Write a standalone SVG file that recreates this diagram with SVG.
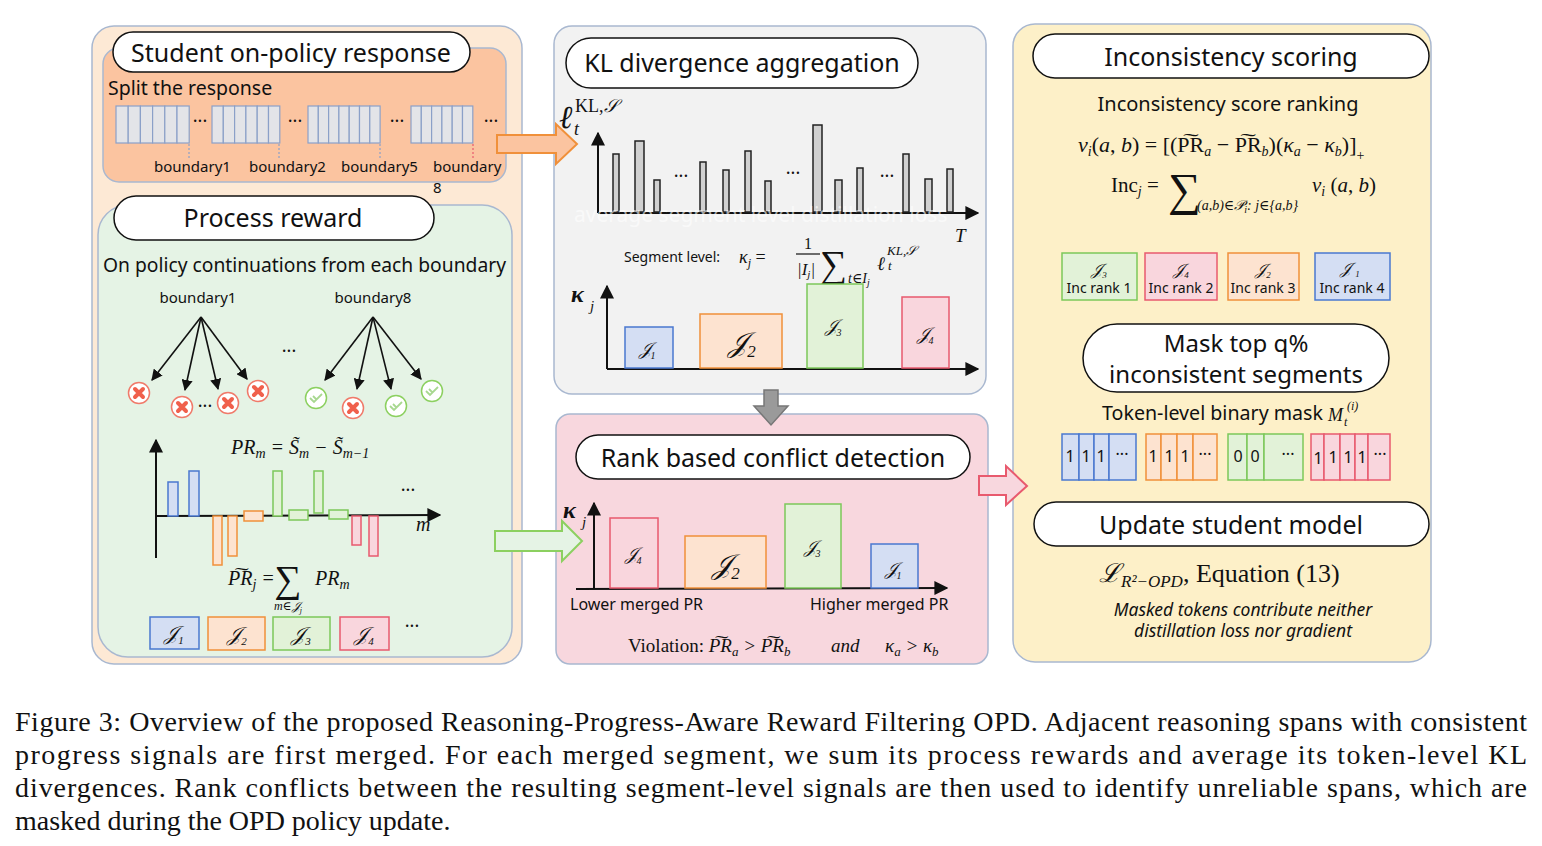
<svg xmlns="http://www.w3.org/2000/svg" width="1542" height="846" viewBox="0 0 1542 846">
<style>
.t{font-family:"Noto Sans","DejaVu Sans",sans-serif;fill:#111}
.m{font-family:"Liberation Serif","DejaVu Serif",serif;fill:#111}
.i{font-style:italic}
.pill{fill:#fff;stroke:#111;stroke-width:1.5}
.panel{stroke:#a9b8d0;stroke-width:1.5}
.tok{fill:#e3e4e8;stroke:#8ba0c8;stroke-width:1.2}
.ax{stroke:#111;stroke-width:2;fill:none}
.gb{fill:#d0d0d0;stroke:#222;stroke-width:1.5}
.b{fill:#d4def3;stroke:#4a78d0;stroke-width:1.5}
.o{fill:#fde3d0;stroke:#f0903a;stroke-width:1.5}
.g{fill:#e2f2d8;stroke:#7cc85a;stroke-width:1.5}
.r{fill:#f9d6dd;stroke:#e85a6e;stroke-width:1.5}
.cap{font-family:"Liberation Serif",serif;font-size:28px;fill:#111}
</style>
<defs>
<marker id="ah" viewBox="0 0 10 10" refX="9" refY="5" markerWidth="7" markerHeight="7" orient="auto"><path d="M0,0 L10,5 L0,10 z" fill="#111"/></marker>
</defs>

<g id="student">
<rect class="panel" x="92" y="26" width="430" height="638" rx="22" fill="#fde9d5"/>
<rect class="panel" x="103" y="48" width="403" height="134" rx="16" fill="#fbc4a0"/>
<rect class="pill" x="113" y="32" width="357" height="40" rx="20"/>
<text class="t" x="291" y="62" font-size="25" text-anchor="middle">Student on-policy response</text>
<text class="t" x="108" y="95" font-size="19.5">Split the response</text>
<g>
<rect class="tok" x="116" y="106" width="12.2" height="37"/><rect class="tok" x="128.2" y="106" width="12.2" height="37"/><rect class="tok" x="140.4" y="106" width="12.2" height="37"/><rect class="tok" x="152.6" y="106" width="12.2" height="37"/><rect class="tok" x="164.8" y="106" width="12.2" height="37"/><rect class="tok" x="177" y="106" width="12.2" height="37"/>
<rect class="tok" x="212" y="106" width="11.3" height="37"/><rect class="tok" x="223.3" y="106" width="11.3" height="37"/><rect class="tok" x="234.6" y="106" width="11.3" height="37"/><rect class="tok" x="245.9" y="106" width="11.3" height="37"/><rect class="tok" x="257.2" y="106" width="11.3" height="37"/><rect class="tok" x="268.5" y="106" width="11.3" height="37"/>
<rect class="tok" x="308" y="106" width="10.3" height="37"/><rect class="tok" x="318.3" y="106" width="10.3" height="37"/><rect class="tok" x="328.6" y="106" width="10.3" height="37"/><rect class="tok" x="338.9" y="106" width="10.3" height="37"/><rect class="tok" x="349.2" y="106" width="10.3" height="37"/><rect class="tok" x="359.5" y="106" width="10.3" height="37"/><rect class="tok" x="369.8" y="106" width="10.3" height="37"/>
<rect class="tok" x="411" y="106" width="10.3" height="37"/><rect class="tok" x="421.3" y="106" width="10.3" height="37"/><rect class="tok" x="431.6" y="106" width="10.3" height="37"/><rect class="tok" x="441.9" y="106" width="10.3" height="37"/><rect class="tok" x="452.2" y="106" width="10.3" height="37"/><rect class="tok" x="462.5" y="106" width="10.3" height="37"/>
</g>
<text class="t" x="200" y="127" font-size="18" text-anchor="middle">···</text>
<text class="t" x="295" y="127" font-size="18" text-anchor="middle">···</text>
<text class="t" x="397" y="127" font-size="18" text-anchor="middle">···</text>
<text class="t" x="491" y="127" font-size="18" text-anchor="middle">···</text>
<g stroke-dasharray="2,2" stroke-width="1.2">
<line x1="189" y1="144" x2="189" y2="158" stroke="#8ba0c8"/><line x1="279" y1="144" x2="279" y2="158" stroke="#8ba0c8"/><line x1="380" y1="144" x2="380" y2="158" stroke="#8ba0c8"/><line x1="473" y1="144" x2="473" y2="158" stroke="#e85a6e"/>
</g>
<text class="t" x="154" y="172" font-size="15">boundary1</text>
<text class="t" x="249" y="172" font-size="15">boundary2</text>
<text class="t" x="341" y="172" font-size="15">boundary5</text>
<text class="t" x="433" y="172" font-size="15">boundary</text>
<text class="t" x="433" y="193" font-size="15">8</text>
</g>

<g id="process-reward">
<rect class="panel" x="98" y="205" width="414" height="452" rx="30" fill="#e5f3e5"/>
<rect class="pill" x="114" y="196" width="320" height="44" rx="22"/>
<text class="t" x="273" y="227" font-size="25" text-anchor="middle">Process reward</text>
<text class="t" x="103" y="272" font-size="19" textLength="403" lengthAdjust="spacingAndGlyphs">On policy continuations from each boundary</text>
<text class="t" x="198" y="303" font-size="15" text-anchor="middle">boundary1</text>
<text class="t" x="373" y="303" font-size="15" text-anchor="middle">boundary8</text>
<g stroke="#111" stroke-width="1.6" marker-end="url(#ah)">
<line x1="201" y1="317" x2="152" y2="380"/><line x1="201" y1="317" x2="185" y2="390"/><line x1="201" y1="317" x2="218" y2="389"/><line x1="201" y1="317" x2="247" y2="379"/>
<line x1="373" y1="317" x2="325" y2="380"/><line x1="373" y1="317" x2="357" y2="389"/><line x1="373" y1="317" x2="391" y2="389"/><line x1="373" y1="317" x2="421" y2="379"/>
</g>
<g stroke-width="1.5" fill="#fff">
<circle cx="139" cy="393" r="10.5" stroke="#f07a6a"/><circle cx="182" cy="407" r="10.5" stroke="#f07a6a"/><circle cx="228" cy="403" r="10.5" stroke="#f07a6a"/><circle cx="258" cy="391" r="10.5" stroke="#f07a6a"/><circle cx="353" cy="408" r="10.5" stroke="#f07a6a"/>
<circle cx="316" cy="398" r="10.5" stroke="#8cd060"/><circle cx="396" cy="406" r="10.5" stroke="#8cd060"/><circle cx="432" cy="391" r="10.5" stroke="#8cd060"/>
</g>
<g stroke="#f0604c" stroke-width="4" stroke-linecap="round">
<path d="M135,389 l8,8 M143,389 l-8,8"/><path d="M178,403 l8,8 M186,403 l-8,8"/><path d="M224,399 l8,8 M232,399 l-8,8"/><path d="M254,387 l8,8 M262,387 l-8,8"/><path d="M349,404 l8,8 M357,404 l-8,8"/>
</g>
<g stroke="#a8d890" stroke-width="1.8" fill="none">
<path d="M310,398 l4,4 l8,-8 M313,396 l3,3"/><path d="M390,406 l4,4 l8,-8 M393,404 l3,3"/><path d="M426,391 l4,4 l8,-8 M429,389 l3,3"/>
</g>
<text class="t" x="289" y="357" font-size="18" text-anchor="middle">···</text>
<text class="t" x="205" y="412" font-size="18" text-anchor="middle">···</text>
<line class="ax" x1="156" y1="558" x2="156" y2="440" marker-end="url(#ah)"/>
<line class="ax" x1="156" y1="516" x2="440" y2="515" marker-end="url(#ah)"/>
<rect class="b" x="168" y="482" width="10" height="34" fill="#b4c6ec"/>
<rect class="b" x="189" y="471" width="10" height="45" fill="#b4c6ec"/>
<rect class="o" x="213" y="516" width="9" height="49"/>
<rect class="o" x="228" y="516" width="9" height="40"/>
<rect class="o" x="244" y="511" width="19" height="10"/>
<rect class="g" x="273" y="471" width="9" height="45"/>
<rect class="g" x="289" y="510" width="19" height="10"/>
<rect class="g" x="314" y="471" width="9" height="42"/>
<rect class="g" x="329" y="510" width="19" height="9"/>
<rect class="r" x="352" y="516" width="9" height="29"/>
<rect class="r" x="369" y="516" width="9" height="40"/>
<text class="m i" x="231" y="454" font-size="20">PR<tspan font-size="14" dy="4">m</tspan><tspan dy="-4"> =  </tspan><tspan>S̃</tspan><tspan font-size="14" dy="4">m</tspan><tspan dy="-4"> − S̃</tspan><tspan font-size="14" dy="4">m−1</tspan></text>
<text class="t" x="408" y="496" font-size="18" text-anchor="middle">···</text>
<text class="m i" x="416" y="531" font-size="20">m</text>
<text class="m i" x="228" y="585" font-size="20">P͠R<tspan font-size="14" dy="4">j</tspan><tspan dy="-4"> = </tspan></text>
<text class="m" x="288" y="592" font-size="38" text-anchor="middle">∑</text>
<text class="m i" x="315" y="585" font-size="20">PR<tspan font-size="14" dy="4">m</tspan></text>
<text class="m i" x="288" y="610" font-size="12" text-anchor="middle">m∈𝒥<tspan font-size="8" dy="3">j</tspan></text>
<rect class="b" x="150" y="617" width="49" height="32"/><text class="m i" x="174" y="640" font-size="20" text-anchor="middle">𝒥<tspan font-size="11" dy="4">1</tspan></text>
<rect class="o" x="208" y="617" width="57" height="33"/><text class="m i" x="237" y="641" font-size="20" text-anchor="middle">𝒥<tspan font-size="11" dy="4">2</tspan></text>
<rect class="g" x="273" y="617" width="57" height="33"/><text class="m i" x="301" y="641" font-size="20" text-anchor="middle">𝒥<tspan font-size="11" dy="4">3</tspan></text>
<rect class="r" x="340" y="617" width="49" height="33"/><text class="m i" x="364" y="641" font-size="20" text-anchor="middle">𝒥<tspan font-size="11" dy="4">4</tspan></text>
<text class="t" x="412" y="632" font-size="18" text-anchor="middle">···</text>
</g>

<g id="kl-aggregation">
<rect class="panel" x="554" y="26" width="432" height="368" rx="18" fill="#f2f2f2"/>
<rect class="pill" x="566" y="38" width="352" height="50" rx="25"/>
<text class="t" x="742" y="72" font-size="25" text-anchor="middle">KL divergence aggregation</text>
<text class="m i" x="559" y="128" font-size="32">ℓ</text>
<text class="m" x="575" y="112" font-size="18">KL,<tspan class="i">𝒮</tspan></text>
<text class="m i" x="574" y="135" font-size="18">t</text>
<line class="ax" x1="598" y1="213" x2="598" y2="133" marker-end="url(#ah)"/>
<line class="ax" x1="598" y1="213" x2="978" y2="213" marker-end="url(#ah)"/>
<rect class="gb" x="613" y="154" width="6" height="58"/><rect class="gb" x="635" y="141" width="9" height="71"/><rect class="gb" x="654" y="180" width="6" height="32"/>
<rect class="gb" x="700" y="162" width="6" height="50"/><rect class="gb" x="723" y="170" width="6" height="42"/><rect class="gb" x="745" y="151" width="6" height="61"/><rect class="gb" x="765" y="181" width="6" height="31"/>
<rect class="gb" x="813" y="125" width="9" height="87"/><rect class="gb" x="835" y="180" width="7" height="32"/><rect class="gb" x="857" y="168" width="6" height="44"/>
<rect class="gb" x="903" y="154" width="6" height="58"/><rect class="gb" x="925" y="179" width="7" height="33"/><rect class="gb" x="947" y="169" width="6" height="43"/>
<text class="t" x="681" y="182" font-size="18" text-anchor="middle">···</text>
<text class="t" x="793" y="179" font-size="18" text-anchor="middle">···</text>
<text class="t" x="887" y="182" font-size="18" text-anchor="middle">···</text>
<text class="t" x="574" y="222" font-size="21" fill-opacity="0.6" style="fill:#fff">average segment  level distillation loss</text>
<text class="m i" x="955" y="242" font-size="19">T</text>
<text class="t" x="624" y="262" font-size="14">Segment level:</text>
<text class="m i" x="739" y="263" font-size="18">κ<tspan font-size="12" dy="4">j</tspan><tspan dy="-4" font-style="normal">  =</tspan></text>
<text class="m" x="808" y="249" font-size="16" text-anchor="middle">1</text>
<line x1="796" y1="254" x2="820" y2="254" stroke="#111" stroke-width="1.2"/>
<text class="m i" x="797" y="275" font-size="17">|I<tspan font-size="11" dy="3">j</tspan><tspan dy="-3">|</tspan></text>
<text class="m" x="820" y="277" font-size="38">∑</text>
<text class="m i" x="848" y="283" font-size="14">t∈I<tspan font-size="10" dy="3">j</tspan></text>
<text class="m i" x="877" y="270" font-size="19">ℓ</text>
<text class="m i" x="887" y="255" font-size="13">KL,𝒮</text>
<text class="m i" x="888" y="270" font-size="13">t</text>
<text class="m i" x="571" y="302" font-size="24" font-weight="bold">κ</text>
<text class="m i" x="590" y="311" font-size="15">j</text>
<line class="ax" x1="607" y1="369" x2="607" y2="286" marker-end="url(#ah)"/>
<line class="ax" x1="607" y1="369" x2="978" y2="369" marker-end="url(#ah)"/>
<rect class="b" x="625" y="327" width="48" height="41"/><text class="m i" x="647" y="355" font-size="18" text-anchor="middle">𝒥<tspan font-size="10" dy="4">1</tspan></text>
<rect class="o" x="700" y="314" width="82" height="54"/><text class="m i" x="742" y="352" font-size="28" text-anchor="middle">𝒥<tspan font-size="17" dy="5">2</tspan></text>
<rect class="g" x="807" y="284" width="56" height="84"/><text class="m i" x="833" y="332" font-size="18" text-anchor="middle">𝒥<tspan font-size="10" dy="4">3</tspan></text>
<rect class="r" x="902" y="297" width="47" height="71" fill="#f2b5c0"/><text class="m i" x="925" y="340" font-size="18" text-anchor="middle">𝒥<tspan font-size="10" dy="4">4</tspan></text>
</g>

<g id="rank-conflict">
<rect class="panel" x="556" y="414" width="432" height="250" rx="14" fill="#f8d7de"/>
<rect class="pill" x="576" y="435" width="394" height="44" rx="22"/>
<text class="t" x="773" y="467" font-size="25" text-anchor="middle">Rank based conflict detection</text>
<text class="m i" x="563" y="518" font-size="24" font-weight="bold">κ</text>
<text class="m i" x="582" y="527" font-size="15">j</text>
<line class="ax" x1="594" y1="589" x2="594" y2="503" marker-end="url(#ah)"/>
<line class="ax" x1="576" y1="589" x2="947" y2="588" marker-end="url(#ah)"/>
<rect class="r" x="610" y="518" width="48" height="70" fill="#f2b5c0"/><text class="m i" x="633" y="560" font-size="18" text-anchor="middle">𝒥<tspan font-size="10" dy="4">4</tspan></text>
<rect class="o" x="685" y="536" width="81" height="52"/><text class="m i" x="726" y="574" font-size="28" text-anchor="middle">𝒥<tspan font-size="17" dy="5">2</tspan></text>
<rect class="g" x="785" y="504" width="56" height="84"/><text class="m i" x="812" y="553" font-size="18" text-anchor="middle">𝒥<tspan font-size="10" dy="4">3</tspan></text>
<rect class="b" x="871" y="544" width="47" height="44"/><text class="m i" x="893" y="575" font-size="18" text-anchor="middle">𝒥<tspan font-size="10" dy="4">1</tspan></text>
<text class="t" x="570" y="610" font-size="16">Lower merged PR</text>
<text class="t" x="810" y="610" font-size="16">Higher merged PR</text>
<text class="m" x="628" y="652" font-size="19">Violation: <tspan class="i">P͠R<tspan font-size="13" dy="4">a</tspan><tspan dy="-4"> &gt; P͠R</tspan><tspan font-size="13" dy="4">b</tspan></tspan></text>
<text class="m i" x="831" y="652" font-size="19">and</text>
<text class="m i" x="885" y="652" font-size="19">κ<tspan font-size="13" dy="4">a</tspan><tspan dy="-4"> &gt; κ</tspan><tspan font-size="13" dy="4">b</tspan></text>
</g>

<g id="inconsistency">
<rect class="panel" x="1013" y="24" width="418" height="638" rx="22" fill="#fdf0c8"/>
<rect class="pill" x="1033" y="34" width="396" height="44" rx="22"/>
<text class="t" x="1231" y="66" font-size="25" text-anchor="middle">Inconsistency scoring</text>
<text class="t" x="1228" y="111" font-size="20" text-anchor="middle">Inconsistency score ranking</text>
<text class="m" x="1078" y="152" font-size="22"><tspan class="i">v<tspan font-size="14" dy="4">i</tspan></tspan><tspan dy="-4">(<tspan class="i">a</tspan>, <tspan class="i">b</tspan>) = [(P͠R</tspan><tspan class="i" font-size="14" dy="4">a</tspan><tspan dy="-4"> − P͠R</tspan><tspan class="i" font-size="14" dy="4">b</tspan><tspan dy="-4">)(<tspan class="i">κ</tspan></tspan><tspan class="i" font-size="14" dy="4">a</tspan><tspan dy="-4"> − <tspan class="i">κ</tspan></tspan><tspan class="i" font-size="14" dy="4">b</tspan><tspan dy="-4">)]</tspan><tspan font-size="14" dy="8">+</tspan></text>
<text class="m" x="1111" y="192" font-size="21">Inc<tspan class="i" font-size="14" dy="4">j</tspan><tspan dy="-4"> =</tspan></text>
<text class="m" x="1168" y="205" font-size="46">∑</text>
<text class="m i" x="1197" y="210" font-size="14">(a,b)∈𝒫<tspan font-size="10" dy="3">i</tspan><tspan dy="-3">: j∈{a,b}</tspan></text>
<text class="m i" x="1312" y="192" font-size="21">v<tspan font-size="14" dy="4">i</tspan><tspan dy="-4" font-style="normal"> (</tspan><tspan>a</tspan><tspan font-style="normal">, </tspan><tspan>b</tspan><tspan font-style="normal">)</tspan></text>
<rect class="g" x="1062" y="253" width="75" height="47"/><text class="m i" x="1099" y="275" font-size="16" text-anchor="middle">𝒥<tspan font-size="9" dy="3">3</tspan></text><text class="t" x="1099" y="293" font-size="14" text-anchor="middle">Inc rank 1</text>
<rect class="r" x="1145" y="253" width="72" height="47"/><text class="m i" x="1181" y="275" font-size="16" text-anchor="middle">𝒥<tspan font-size="9" dy="3">4</tspan></text><text class="t" x="1181" y="293" font-size="14" text-anchor="middle">Inc rank 2</text>
<rect class="o" x="1228" y="253" width="71" height="47"/><text class="m i" x="1263" y="275" font-size="16" text-anchor="middle">𝒥<tspan font-size="9" dy="3">2</tspan></text><text class="t" x="1263" y="293" font-size="14" text-anchor="middle">Inc rank 3</text>
<rect class="b" x="1315" y="253" width="75" height="47"/><text class="m i" x="1350" y="274" font-size="16" text-anchor="middle">𝒥 <tspan font-size="9" dy="3">1</tspan></text><text class="t" x="1352" y="293" font-size="14" text-anchor="middle">Inc rank 4</text>
<rect class="pill" x="1083" y="324" width="306" height="68" rx="34"/>
<text class="t" x="1236" y="352" font-size="24" text-anchor="middle">Mask top q%</text>
<text class="t" x="1236" y="383" font-size="24" text-anchor="middle">inconsistent segments</text>
<text class="t" x="1102" y="420" font-size="19" textLength="221" lengthAdjust="spacingAndGlyphs">Token-level binary mask</text>
<text class="m i" x="1328" y="421" font-size="18">M</text>
<text class="m i" x="1344" y="426" font-size="12">t</text>
<text class="m i" x="1347" y="410" font-size="12">(i)</text>
<g font-size="16">
<rect class="b" x="1062" y="434" width="17" height="46"/><rect class="b" x="1079" y="434" width="15" height="46"/><rect class="b" x="1094" y="434" width="15" height="46"/><rect class="b" x="1109" y="434" width="27" height="46"/>
<text class="t" x="1070" y="462" text-anchor="middle">1</text><text class="t" x="1086" y="462" text-anchor="middle">1</text><text class="t" x="1101" y="462" text-anchor="middle">1</text><text class="t" x="1122" y="460" text-anchor="middle">···</text>
<rect class="o" x="1146" y="434" width="15" height="46"/><rect class="o" x="1161" y="434" width="16" height="46"/><rect class="o" x="1177" y="434" width="16" height="46"/><rect class="o" x="1193" y="434" width="24" height="46"/>
<text class="t" x="1153" y="462" text-anchor="middle">1</text><text class="t" x="1169" y="462" text-anchor="middle">1</text><text class="t" x="1185" y="462" text-anchor="middle">1</text><text class="t" x="1205" y="460" text-anchor="middle">···</text>
<rect class="g" x="1228" y="434" width="19" height="46"/><rect class="g" x="1247" y="434" width="17" height="46"/><rect class="g" x="1264" y="434" width="39" height="46"/>
<text class="t" x="1238" y="462" text-anchor="middle">0</text><text class="t" x="1255" y="462" text-anchor="middle">0</text><text class="t" x="1288" y="460" text-anchor="middle">···</text>
<rect class="r" x="1311" y="434" width="13" height="46"/><rect class="r" x="1324" y="434" width="16" height="46"/><rect class="r" x="1340" y="434" width="15" height="46"/><rect class="r" x="1355" y="434" width="13" height="46"/><rect class="r" x="1368" y="434" width="22" height="46"/>
<text class="t" x="1318" y="464" text-anchor="middle">1</text><text class="t" x="1333" y="463" text-anchor="middle">1</text><text class="t" x="1348" y="463" text-anchor="middle">1</text><text class="t" x="1362" y="463" text-anchor="middle">1</text><text class="t" x="1380" y="460" text-anchor="middle">···</text>
</g>
<rect class="pill" x="1034" y="502" width="395" height="44" rx="22"/>
<text class="t" x="1231" y="534" font-size="25" text-anchor="middle">Update student model</text>
<text class="m" x="1099" y="582" font-size="26"><tspan class="i">ℒ</tspan><tspan class="i" font-size="17" dy="5">R²−OPD</tspan><tspan dy="-5">,   Equation (13)</tspan></text>
<text class="t" x="1243" y="616" font-size="17.5" text-anchor="middle" font-style="italic">Masked tokens contribute neither</text>
<text class="t" x="1243" y="637" font-size="17.5" text-anchor="middle" font-style="italic">distillation loss nor gradient</text>
</g>

<g id="connectors">
<path d="M497,135 H556 V124 L577,144 L556,164 V153 H497 Z" fill="#fbc4a0" stroke="#f0903a" stroke-width="2"/>
<path d="M495,531 H562 V521 L582,541 L562,561 V551 H495 Z" fill="#e5f3e5" stroke="#8cd060" stroke-width="2"/>
<path d="M979,476 H1006 V466 L1027,486 L1006,505 V495 H979 Z" fill="#f8d7de" stroke="#e85a6e" stroke-width="2"/>
<path d="M764,390 H778 V406 H788 L771,425 L754,406 H764 Z" fill="#9a9a9a" stroke="#777" stroke-width="1.5"/>
</g>

<g id="caption">
<text class="cap" x="15" y="731" textLength="1512" lengthAdjust="spacing">Figure 3: Overview of the proposed Reasoning-Progress-Aware Reward Filtering OPD. Adjacent reasoning spans with consistent</text>
<text class="cap" x="15" y="764" textLength="1512" lengthAdjust="spacing">progress signals are first merged. For each merged segment, we sum its process rewards and average its token-level KL</text>
<text class="cap" x="15" y="797" textLength="1512" lengthAdjust="spacing">divergences. Rank conflicts between the resulting segment-level signals are then used to identify unreliable spans, which are</text>
<text class="cap" x="15" y="830">masked during the OPD policy update.</text>
</g>
</svg>
